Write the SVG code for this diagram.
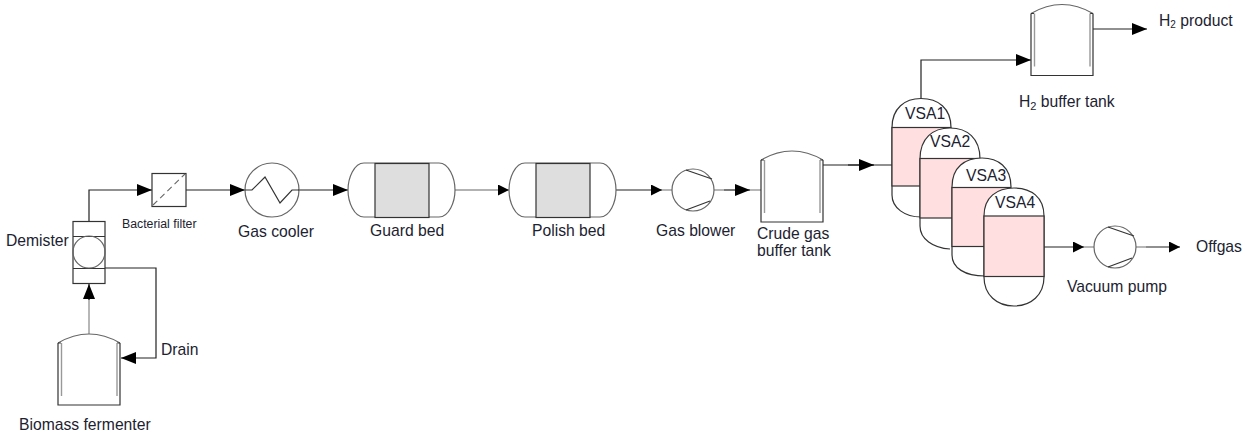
<svg xmlns="http://www.w3.org/2000/svg" width="1248" height="436" viewBox="0 0 1248 436">
<style>
text{font-family:"Liberation Sans",Arial,sans-serif;font-size:15.7px;fill:#1c2230}
.s{fill:none;stroke:#333;stroke-width:1.2}
.g{fill:none;stroke:#666;stroke-width:1.2}
.w{fill:#fff;stroke:#333;stroke-width:1.2}
.bed{fill:#dedede;stroke:#333;stroke-width:1.2}
.p{fill:#ffdfe0;stroke:#333;stroke-width:1.2}
.c{fill:none;stroke:#222;stroke-width:1.2}
.l{fill:none;stroke:#999;stroke-width:1.4}
</style>
<defs>
<marker id="a" markerUnits="userSpaceOnUse" markerWidth="15" markerHeight="12" refX="15" refY="6" orient="auto"><path d="M0 0L15 6L0 12z" fill="#000"/></marker>
<marker id="b" markerUnits="userSpaceOnUse" markerWidth="11" markerHeight="11" refX="11" refY="5.5" orient="auto"><path d="M0 0L11 5.5L0 11z" fill="#000"/></marker>
<g id="tank"><path class="g" d="M0 9Q31 -9 62 9"/><path class="s" d="M0 9V71H62V9M0 9h3M59 9h3"/><path class="l" d="M3.500 9V62M59 9V62"/></g>
<g id="comp"><circle r="21" class="g" fill="#fff"/><path class="s" d="M-7 -20L19 -11M-7 20L17 11"/></g>
<g id="bedshape"><path class="g" fill="#fff" d="M16 -27H91C101 -27 107 -12 107 0C107 12 101 27 91 27H16C6 27 0 12 0 0C0 -12 6 -27 16 -27z"/></g>
</defs>

<g id="connectors">
<path class="c" d="M89 221V190H152" marker-end="url(#a)"/>
<path class="c" d="M186 190H245" marker-end="url(#a)"/>
<path class="c" d="M298 190H348" marker-end="url(#a)"/>
<path class="l" d="M455 190H509" marker-end="url(#b)"/>
<path class="c" d="M616 190H662" marker-end="url(#b)"/>
<path class="l" d="M662 190H672"/>
<path class="l" d="M714 190H724"/>
<path class="c" d="M724 190H750" marker-end="url(#a)"/>
<path class="l" d="M750 190H761"/>
<path class="c" d="M823 165H892"/>
<path class="c" d="M848 165H874" marker-end="url(#a)"/>
<path class="c" d="M921 99V60H1031" marker-end="url(#a)"/>
<path class="c" d="M1093 29H1147" marker-end="url(#a)"/>
<path class="c" d="M1044 247H1084" marker-end="url(#b)"/>
<path class="l" d="M1084 247H1094"/>
<path class="l" d="M1136 247H1146"/>
<path class="c" d="M1146 247H1180" marker-end="url(#b)"/>
<path class="l" d="M89 334V296"/>
<path class="c" d="M89 300V284" marker-end="url(#a)"/>
<path class="c" d="M105 268H156V358H121" marker-end="url(#a)"/>
</g>

<g id="demister">
<rect class="w" x="73" y="221.500" width="32" height="62"/>
<path class="s" d="M73 236.500H105M73 268.500H105"/>
<circle class="g" cx="89" cy="252" r="16"/>
<text x="6" y="246">Demister</text>
</g>
<g id="bacterial-filter">
<rect class="w" x="152" y="173.500" width="34" height="33"/>
<path d="M153 205L185 174" fill="none" stroke="#666" stroke-width="1.1" stroke-dasharray="6 4"/>
<text x="122" y="228" style="font-size:12.300px">Bacterial filter</text>
</g>
<g id="gas-cooler">
<circle class="g" cx="272" cy="190" r="27" fill="#fff"/>
<path class="s" d="M245 190H252L265 177L280 203L292 190H299"/>
<text x="238" y="237">Gas cooler</text>
</g>
<g id="guard-bed">
<use href="#bedshape" x="348" y="190"/>
<rect class="bed" x="375" y="163.500" width="54" height="54"/>
<text x="370" y="236">Guard bed</text>
</g>
<g id="polish-bed">
<use href="#bedshape" x="509" y="190"/>
<rect class="bed" x="536" y="163.500" width="54" height="54"/>
<text x="532" y="236">Polish bed</text>
</g>
<g id="gas-blower">
<use href="#comp" x="693" y="190"/>
<text x="656" y="236">Gas blower</text>
</g>
<g id="crude-tank">
<use href="#tank" x="761" y="151"/>
<text x="757" y="239">Crude gas</text>
<text x="757" y="256">buffer tank</text>
</g>
<g id="h2-tank">
<use href="#tank" x="1031" y="4.500"/>
<text x="1019" y="107">H<tspan font-size="11" dy="3">2</tspan><tspan dy="-3"> buffer tank</tspan></text>
</g>
<g id="h2-product"><text x="1159" y="26">H<tspan font-size="10" dy="2">2</tspan><tspan dy="-2"> product</tspan></text></g>
<g id="vsa1">
<path class="w" d="M892 186V127.500C892 108 905 98.500 921 98.500C938 98.500 951 108 951 127.500M892 186V195C892 208 905 217 921 217H925"/>
<rect class="p" x="892" y="127.500" width="59" height="58.500"/>
<text x="905" y="119">VSA1</text>
</g>
<g id="vsa2">
<path class="w" d="M920 218V159C920 138 933 128 950 128C967 128 980 138 980 159M920 218V226C920 239 933 248 950 249"/>
<rect class="p" x="920" y="158.500" width="60" height="59.500"/>
<text x="930" y="147">VSA2</text>
</g>
<g id="vsa3">
<path class="w" d="M952 246V187C952 167 965 158 982 158C998 158 1011 167 1011 187M952 246V255C952 268 965 276 985 276"/>
<rect class="p" x="952" y="187.500" width="59" height="59"/>
<text x="966" y="181">VSA3</text>
</g>
<g id="vsa4">
<path class="w" d="M984 216C984 197 997 188 1014 188C1031 188 1044 197 1044 216V277C1044 295 1031 306 1014 306C997 306 984 295 984 277z"/>
<rect class="p" x="984" y="216" width="60" height="60.500"/>
<text x="995" y="208">VSA4</text>
</g>
<g id="vacuum-pump">
<use href="#comp" x="1115" y="247"/>
<text x="1067" y="292">Vacuum pump</text>
</g>
<g id="offgas"><text x="1196" y="252">Offgas</text></g>
<g id="biomass-fermenter">
<use href="#tank" x="58" y="334"/>
<text x="19" y="430">Biomass fermenter</text>
</g>
<g id="drain"><text x="161" y="355">Drain</text></g>
</svg>
